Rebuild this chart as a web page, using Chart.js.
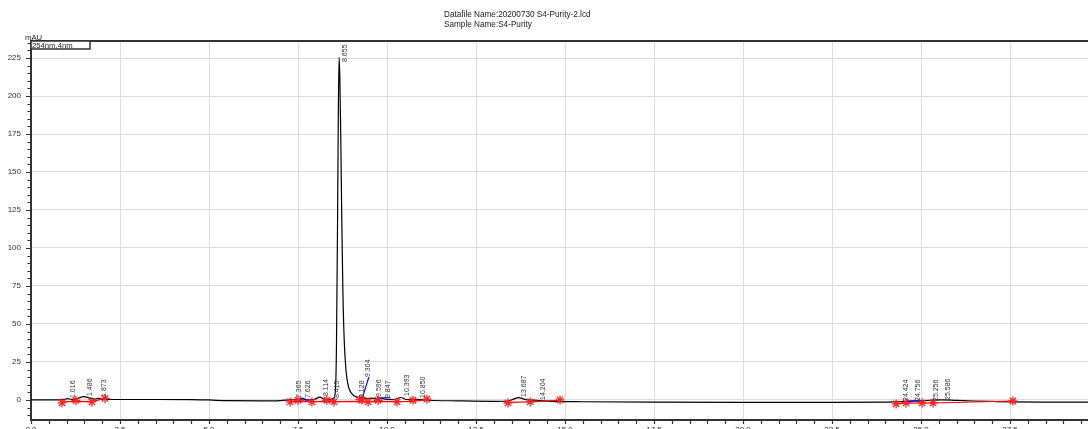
<!DOCTYPE html>
<html><head><meta charset="utf-8">
<script src="https://cdn.jsdelivr.net/npm/chart.js@4.4.1/dist/chart.umd.min.js"></script>
<style>
html,body{margin:0;padding:0;background:#fff;overflow:hidden}
#wrap{width:1088px;height:429px;overflow:hidden;position:relative;background:#fff}
canvas{display:block}
</style></head>
<body><div id="wrap"><canvas id="c" width="1088" height="445"></canvas></div>
<script>
// ---- data ----
const traceTime = [0, 0.5, 0.9, 1.016, 1.15, 1.3, 1.486, 1.65, 1.8, 1.873, 2.0, 2.5, 3.5, 4.5, 5.0, 5.5, 6.5, 7.0, 7.365, 7.5, 7.626, 7.75, 7.95, 8.114, 8.25, 8.40, 8.50, 8.55, 8.58, 8.61, 8.635, 8.655, 8.675, 8.70, 8.73, 8.76, 8.80, 8.85, 8.90, 8.95, 9.00, 9.08, 9.128, 9.2, 9.304, 9.45, 9.596, 9.7, 9.847, 10.0, 10.2, 10.393, 10.55, 10.85, 11.2, 12.0, 13.0, 13.4, 13.687, 13.95, 14.204, 14.6, 15.5, 17.5, 20.0, 22.5, 24.0, 24.424, 24.6, 24.756, 25.0, 25.256, 25.586, 26.0, 26.5, 27.0, 27.6, 28.5, 29.7];
const traceSignal = [0.0, 0.0, 0.1, 0.8, 0.4, 0.9, 2.2, 1.2, 0.6, 1.0, 0.6, 0.3, 0.3, 0.2, 0.0, -0.5, -0.6, -0.4, 0.2, 0.0, 1.0, 0.1, 0.3, 1.8, 0.5, 0.4, 1.0, 6, 35, 115, 195, 225.5, 212, 175, 118, 72, 38, 19, 10.5, 6.5, 4.5, 2.6, 2.2, 1.4, 1.5, 0.8, 1.2, 0.6, 1.0, 0.3, 0.2, 1.6, 0.3, 0.4, -0.2, -0.6, -0.9, -0.7, 1.5, 0.0, -0.2, -0.9, -1.2, -1.5, -1.6, -1.6, -1.5, -1.1, -1.2, -0.8, -0.6, -0.2, 0.1, -0.3, -0.7, -1.0, -1.3, -1.4, -1.5];

const peakTimes = [1.016, 1.486, 1.873, 7.365, 7.626, 8.114, 8.415, 8.655, 9.128, 9.304, 9.596, 9.847, 10.393, 10.850, 13.687, 14.204, 24.424, 24.756, 25.256, 25.586];
const peakNames = ['1.016', '1.486', '1.873', '7.365', '7.626', '8.114', '8.415', '8.655', '9.128', '9.304', '9.596', '9.847', '10.393', '10.850', '13.687', '14.204', '24.424', '24.756', '25.256', '25.586'];
const peakLabelBase = [1.3, 2.6, 2.0, 1.3, 1.3, 2.6, 1.3, 222.4, 1.3, 15.1, 2.0, 1.3, 2.6, 1.3, 2.0, 0.0, -0.7, -0.7, -0.7, 0.0];

const starTime = [0.87, 1.26, 1.71, 2.08, 7.28, 7.50, 7.89, 8.31, 8.51, 9.24, 9.30, 9.47, 9.75, 10.28, 10.73, 11.12, 13.40, 14.02, 14.86, 24.30, 24.58, 25.03, 25.34, 27.58];
const starValue = [-1.9, -0.3, -1.3, 1.0, -1.3, -0.2, -1.3, -0.2, -1.3, 0.4, 0.0, -1.3, -0.2, -1.3, -0.2, 0.5, -2.0, -1.3, 0.0, -2.6, -2.0, -2.0, -2.0, -0.7];

const redLineTime = [[0.87, 1.26, 1.71, 2.08], [7.28, 7.50, 7.89, 8.31, 8.51, 9.24, 9.47, 9.75, 10.28, 10.73, 11.12], [13.40, 14.02, 14.86], [24.30, 24.58, 25.03, 25.34, 27.58]];
const redLineValue = [[-1.3, -0.9, -1.1, 1.0], [-1.1, -1.0, -1.1, -1.0, -1.1, -1.0, -1.1, -1.0, -1.1, -1.0, 0.2], [-1.6, -1.3, -0.2], [-2.4, -2.1, -2.0, -2.0, -0.7]];

const blueLineTime = [[7.53, 7.92], [8.26, 8.54], [9.30, 9.49], [9.72, 10.10], [24.58, 25.03]];
const blueLineValue = [[0.0, 0.0], [0.0, 0.0], [1.0, 15.0], [1.4, 1.4], [-0.7, -0.7]];

const xTickValues = [0, 2.5, 5, 7.5, 10, 12.5, 15, 17.5, 20, 22.5, 25, 27.5];
const xTickLabels = ['0.0', '2.5', '5.0', '7.5', '10.0', '12.5', '15.0', '17.5', '20.0', '22.5', '25.0', '27.5'];
const yTickValues = [0, 25, 50, 75, 100, 125, 150, 175, 200, 225];
const yTickLabels = ['0', '25', '50', '75', '100', '125', '150', '175', '200', '225'];

const titleLines = ['Datafile Name:20200730 S4-Purity-2.lcd', 'Sample Name:S4-Purity'];
const yUnit = 'mAU';
const channelName = '254nm,4nm';

// ---- chart ----
const FONT = "'Liberation Sans', Arial, sans-serif";
const pts = (t, v) => t.map((x, i) => ({x: x, y: v[i]}));

const datasets = [];
datasets.push({data: pts(traceTime, traceSignal), borderColor: '#000', borderWidth: 1.2, pointRadius: 0, cubicInterpolationMode: 'monotone', order: 3});
redLineTime.forEach((t, i) => datasets.push({data: pts(t, redLineValue[i]), borderColor: '#ff0000', borderWidth: 1.2, pointRadius: 0, order: 2}));
blueLineTime.forEach((t, i) => datasets.push({data: pts(t, blueLineValue[i]), borderColor: '#0000ff', borderWidth: 1.2, pointRadius: 0, order: 2}));
datasets.push({data: pts(starTime, starValue), showLine: false, pointStyle: 'star', pointRadius: 4.5, borderColor: '#ff2020', backgroundColor: '#ff2020', pointBorderWidth: 1.3, order: 1});

const decor = {
  id: 'decor',
  afterDatasetsDraw(chart) {
    const {ctx, scales: {x, y}} = chart;
    ctx.save();
    ctx.fillStyle = '#333';
    ctx.font = '7px ' + FONT;
    ctx.textAlign = 'left';
    ctx.textBaseline = 'middle';
    peakTimes.forEach((t, i) => {
      const px = x.getPixelForValue(t) + 6;
      const py = y.getPixelForValue(peakLabelBase[i]);
      ctx.save();
      ctx.translate(px, py);
      ctx.rotate(-Math.PI / 2);
      ctx.fillText(peakNames[i], 0, 0);
      ctx.restore();
    });
    ctx.restore();
  },
  afterDraw(chart) {
    const {ctx, chartArea: ca, scales: {x, y}} = chart;
    ctx.save();
    // top border
    ctx.strokeStyle = '#333';
    ctx.lineWidth = 2;
    ctx.beginPath(); ctx.moveTo(ca.left - 1, ca.top); ctx.lineTo(ca.right, ca.top); ctx.stroke();
    // y ticks (major + minor every 5)
    ctx.lineWidth = 1.2;
    ctx.beginPath();
    for (let v = -10; v <= 235; v += 5) {
      const py = Math.round(y.getPixelForValue(v)) + 0.5;
      const len = (v % 25 === 0) ? 5 : 3.5;
      ctx.moveTo(ca.left - len, py); ctx.lineTo(ca.left, py);
    }
    // x ticks every 0.5
    for (let k = 0; k * 0.5 <= 29.69; k++) {
      const px = Math.round(x.getPixelForValue(k * 0.5)) + 0.5;
      ctx.moveTo(px, ca.bottom); ctx.lineTo(px, ca.bottom + 4);
    }
    ctx.stroke();
    // header texts
    ctx.fillStyle = '#222';
    ctx.font = '8.2px ' + FONT;
    ctx.textAlign = 'left';
    ctx.textBaseline = 'middle';
    ctx.fillText(titleLines[0], 444, 14.5);
    ctx.fillText(titleLines[1], 444, 25);
    ctx.font = '7.7px ' + FONT;
    ctx.fillText(yUnit, 25, 38);
    // channel box
    ctx.fillStyle = '#fff';
    ctx.fillRect(ca.left, ca.top, 59, 8);
    ctx.strokeStyle = '#333';
    ctx.lineWidth = 1.5;
    ctx.strokeRect(ca.left, ca.top, 59, 8);
    ctx.fillStyle = '#222';
    ctx.font = '7.7px ' + FONT;
    ctx.fillText(channelName, ca.left + 1, ca.top + 4.5);
    ctx.restore();
  }
};

new Chart(document.getElementById('c'), {
  type: 'line',
  data: {datasets: datasets},
  plugins: [decor],
  options: {
    responsive: false, animation: false, devicePixelRatio: 1,
    layout: {autoPadding: false, padding: {top: 41, left: 0, right: 0, bottom: 0}},
    plugins: {legend: {display: false}, tooltip: {enabled: false}, title: {display: false}},
    scales: {
      x: {
        type: 'linear', min: 0, max: 29.69,
        afterBuildTicks: s => { s.ticks = xTickValues.map(v => ({value: v})); },
        afterFit: s => { s.height = 25; s.paddingRight = 0; s.paddingLeft = 0; },
        grid: {color: '#dcdcdc', lineWidth: 1, drawTicks: false},
        border: {color: '#333', width: 2},
        ticks: {padding: 5, color: '#333', font: {size: 8, family: FONT}, maxRotation: 0, autoSkip: false,
                callback: (v, i) => xTickLabels[i]}
      },
      y: {
        type: 'linear', min: -13.2, max: 236.2,
        afterBuildTicks: s => { s.ticks = yTickValues.map(v => ({value: v})); },
        afterFit: s => { s.width = 31; s.paddingTop = 0; s.paddingBottom = 0; },
        grid: {color: '#dcdcdc', lineWidth: 1, drawTicks: false},
        border: {color: '#333', width: 2},
        ticks: {padding: 10, color: '#333', font: {size: 8, family: FONT}, autoSkip: false,
                callback: (v, i) => yTickLabels[i]}
      }
    }
  }
});
</script>
</body></html>
